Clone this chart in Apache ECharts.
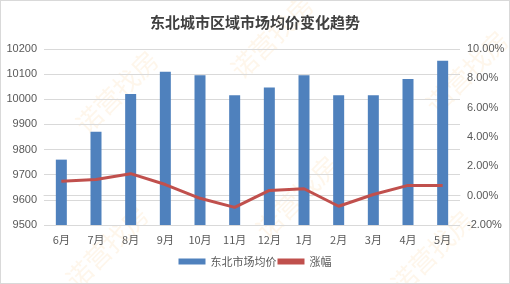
<!DOCTYPE html>
<html><head><meta charset="utf-8">
<script src="https://cdn.jsdelivr.net/npm/echarts@6/dist/echarts.min.js"></script>
<style>html,body{margin:0;padding:0;background:#fff}
#c{width:510px;height:284px;box-sizing:border-box;border:1px solid #d9d9d9}</style>
</head><body><div id="c"></div>
<script>
const categories = ['6月','7月','8月','9月','10月','11月','12月','1月','2月','3月','4月','5月'];
const avgPrice = [9760, 9871, 10021, 10110, 10096, 10016, 10047, 10096, 10016, 10016, 10081, 10153];
const changePct = [0.98, 1.1, 1.5, 0.76, -0.18, -0.8, 0.36, 0.47, -0.72, 0.08, 0.7, 0.7];
const leftTicks = {min: 9500, max: 10200, interval: 100};
const rightTicks = {min: -2, max: 10, interval: 2};

const chart = echarts.init(document.getElementById('c'), null, {renderer: 'canvas'});
const wm = (x, y) => ({type: 'text', left: x, top: y, rotation: Math.PI / 4, z: 0,
  style: {text: '诺营找房', fill: 'rgba(245,190,110,0.14)', font: '26px "Noto Sans CJK SC"'}});
chart.setOption({
  backgroundColor: '#fff',
  title: {text: '东北城市区域市场均价变化趋势', left: 'center', top: 9,
    textStyle: {fontFamily: '"Noto Sans CJK SC"', fontSize: 15, fontWeight: 'bold', color: '#404040'}},
  graphic: [wm(70, 45), wm(225, -10), wm(60, 200), wm(250, 150), wm(385, 205), wm(420, 25)],
  grid: {left: 43, right: 49, top: 48, bottom: 58},
  legend: {bottom: 11, left: 'center', itemGap: 1, itemWidth: 27, itemHeight: 6,
    textStyle: {fontFamily: '"Noto Sans CJK SC"', fontSize: 11, color: '#595959'},
    data: [{name: '东北市场均价', icon: 'rect'}, {name: '涨幅', icon: 'rect'}]},
  xAxis: {type: 'category', data: categories,
    axisLine: {lineStyle: {color: '#d9d9d9'}}, axisTick: {show: false},
    axisLabel: {color: '#595959', fontSize: 11, margin: 9, fontFamily: '"Noto Sans CJK SC"'}},
  yAxis: [
    {type: 'value', min: leftTicks.min, max: leftTicks.max, interval: leftTicks.interval,
      axisLabel: {color: '#595959', fontSize: 11, margin: 7, fontFamily: 'Liberation Sans',
        formatter: v => String(v)},
      splitLine: {lineStyle: {color: '#d9d9d9'}}, axisLine: {show: false}, axisTick: {show: false}},
    {type: 'value', min: rightTicks.min, max: rightTicks.max, interval: rightTicks.interval,
      axisLabel: {color: '#595959', fontSize: 11, margin: 7, fontFamily: 'Liberation Sans',
        formatter: v => v.toFixed(2) + '%'},
      splitLine: {show: false}, axisLine: {show: false}, axisTick: {show: false}}
  ],
  series: [
    {name: '东北市场均价', type: 'bar', data: avgPrice, barWidth: 11,
      itemStyle: {color: '#4F81BD'}},
    {name: '涨幅', type: 'line', yAxisIndex: 1, data: changePct, symbol: 'none',
      lineStyle: {color: '#C0504D', width: 3}, itemStyle: {color: '#C0504D'}}
  ]
});
</script></body></html>
